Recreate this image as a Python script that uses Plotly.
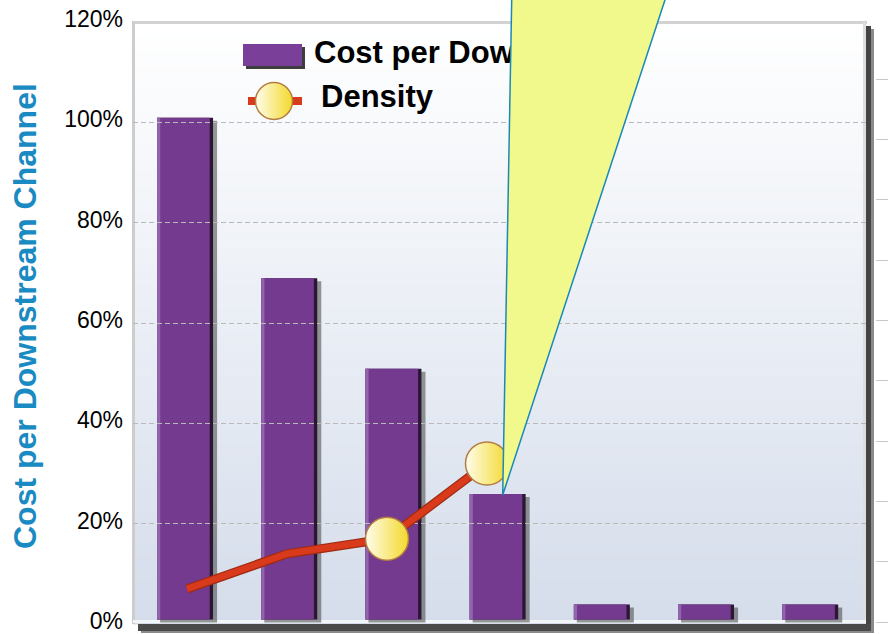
import plotly.graph_objects as go

# ---- data ----
groups = [1, 2, 3, 4, 5, 6, 7]
cost_share = [100, 68, 50, 25, 3, 3, 3]          # % (bars)
density_share = [7, 14, 17, 32]                   # % (line, first four groups)
tick_values = [0, 20, 40, 60, 80, 100, 120]
tick_labels = ["0%", "20%", "40%", "60%", "80%", "100%", "120%"]
grid_values = [20, 40, 60, 80, 100]
series_names = ["Cost per Downstream", "Density"]
axis_title = "Cost per Downstream Channel"

# ---- page geometry (pixels) ----
W, H = 888, 634
PL, PR, PT, PB = 133, 866, 22, 624   # plot frame


def px(x):
    return x / W


def py(y):
    return 1 - y / H


FONT = "Liberation Sans, Arial, sans-serif"
BAR_FACE = "#743A8F"
BAR_EDGE = "#2C1733"
BAR_HI = "#9264AE"
LINE_RED = "#D93A1B"
LINE_DARK = "#A02B12"

fig = go.Figure()

# bar shadow, dark right edge, face and left highlight
fig.add_trace(go.Bar(x=groups, y=cost_share, base=-0.6, width=0.547, offset=-0.24,
                     marker=dict(color="rgba(70,70,70,0.55)", line_width=0),
                     xaxis="x", yaxis="y2"))
fig.add_trace(go.Bar(x=groups, y=cost_share, width=0.537, offset=-0.2687,
                     marker=dict(color=BAR_EDGE, line_width=0),
                     xaxis="x", yaxis="y2"))
fig.add_trace(go.Bar(x=groups, y=cost_share, width=0.505, offset=-0.2687,
                     marker=dict(color=BAR_FACE, line_width=0),
                     xaxis="x", yaxis="y2"))
fig.add_trace(go.Bar(x=groups, y=cost_share, width=0.03, offset=-0.2687,
                     marker=dict(color=BAR_HI, line_width=0),
                     xaxis="x", yaxis="y2"))

# density line with darker rim, markers on the last two points
line_x = groups[:len(density_share)]
fig.add_trace(go.Scatter(x=line_x, y=density_share, mode="lines",
                         line=dict(color=LINE_DARK, width=9),
                         xaxis="x2", yaxis="y"))
fig.add_trace(go.Scatter(x=line_x, y=density_share, mode="lines",
                         line=dict(color=LINE_RED, width=6.5),
                         xaxis="x2", yaxis="y"))
fig.add_trace(go.Scatter(x=line_x[2:], y=density_share[2:], mode="markers",
                         marker=dict(size=43, color="#FFFDEC",
                                     gradient=dict(type="horizontal", color="#F3D92B"),
                                     line=dict(color="#B47C42", width=1.5)),
                         xaxis="x2", yaxis="y"))

# empty traces so the right-hand tick axis and the grid axis are laid out
fig.add_trace(go.Scatter(x=[None], y=[None], xaxis="x", yaxis="y4"))
fig.add_trace(go.Scatter(x=[None], y=[None], xaxis="x", yaxis="y5"))

# ---- legend (drawn in page-pixel overlay) ----
fig.add_trace(go.Scatter(x=[246, 305, 305, 246, 246], y=[47, 47, 69, 69, 47],
                         fill="toself", fillcolor="#3E3E3E", mode="none",
                         xaxis="x3", yaxis="y3"))
fig.add_trace(go.Scatter(x=[243, 302, 302, 243, 243], y=[44, 44, 66, 66, 44],
                         fill="toself", fillcolor="#7A3F98", mode="none",
                         xaxis="x3", yaxis="y3"))
fig.add_trace(go.Scatter(x=[314], y=[55], mode="text", text=[series_names[0]],
                         textposition="middle right",
                         textfont=dict(family=FONT, size=31, color="black", weight="bold"),
                         xaxis="x3", yaxis="y3"))
fig.add_trace(go.Scatter(x=[248, 302], y=[101, 101], mode="lines",
                         line=dict(color=LINE_RED, width=8),
                         xaxis="x3", yaxis="y3"))
fig.add_trace(go.Scatter(x=[274], y=[101], mode="markers",
                         marker=dict(size=37, color="#FFFDEC",
                                     gradient=dict(type="horizontal", color="#F3D92B"),
                                     line=dict(color="#B47C42", width=1.5)),
                         xaxis="x3", yaxis="y3"))
fig.add_trace(go.Scatter(x=[321], y=[99], mode="text", text=[series_names[1]],
                         textposition="middle right",
                         textfont=dict(family=FONT, size=31, color="black", weight="bold"),
                         xaxis="x3", yaxis="y3"))

# callout pointer
fig.add_trace(go.Scatter(x=[502.7, 511.8, 666.6, 502.7], y=[495, -5, -5, 495],
                         fill="toself", fillcolor="#F2F98C", mode="lines",
                         line=dict(color="#1A88B8", width=1.5),
                         xaxis="x3", yaxis="y3"))

# ---- decoration shapes: gradient wall and 3-D frame ----
shapes = []
N = 80
top_rgb = (255, 255, 255)
bot_rgb = (213, 221, 235)
for i in range(N):
    t = i / (N - 1)
    c = tuple(round(top_rgb[k] + (bot_rgb[k] - top_rgb[k]) * t) for k in range(3))
    y0 = PT + (PB - PT) * i / N
    y1 = PT + (PB - PT) * (i + 1) / N + 0.5
    shapes.append(dict(type="rect", xref="paper", yref="paper", layer="below",
                       x0=px(PL), x1=px(PR), y0=py(y0), y1=py(y1),
                       fillcolor="rgb(%d,%d,%d)" % c, line_width=0))


def rect(x0, y0, x1, y1, color):
    shapes.append(dict(type="rect", xref="paper", yref="paper", layer="below",
                       x0=px(x0), x1=px(x1), y0=py(y0), y1=py(y1),
                       fillcolor=color, line_width=0))


rect(869, 29, 874, 633, "#8A8A8A")
rect(141, 627, 874, 633, "#8A8A8A")
rect(866, 26, 871, 631, "#444444")
rect(138, 624, 871, 631, "#4A4A4A")
rect(PL - 1, PT - 1, PR + 1, PT + 2, "#D3D3D3")
rect(PL - 1, PT - 1, PL + 2, PB, "#CDCDCD")
rect(PR - 3, PT, PR, PB, "#DEDEDE")
rect(PL, PB - 4, PR, PB - 1, "#F3F5F9")

hidden = dict(showgrid=False, zeroline=False, showticklabels=False, showline=False,
              automargin=False)

fig.update_layout(
    width=W, height=H,
    margin=dict(l=0, r=0, t=0, b=0, autoexpand=False),
    paper_bgcolor="white",
    plot_bgcolor="rgba(0,0,0,0)",
    showlegend=False,
    hovermode=False,
    barmode="overlay",
    shapes=shapes,
    annotations=[dict(text=axis_title, xref="paper", yref="paper",
                      x=px(25), y=py(316), xanchor="center", yanchor="middle",
                      textangle=-90, showarrow=False,
                      font=dict(family=FONT, size=32, color="#1A8AC2", weight="bold"))],
    xaxis=dict(domain=[px(PL), px(PR)], range=[0.5, 7.535], anchor="y", **hidden),
    xaxis2=dict(overlaying="x", range=[0.46, 7.79], anchor="y", **hidden),
    xaxis3=dict(domain=[0, 1], range=[0, W], anchor="y3", visible=False, automargin=False),
    yaxis=dict(domain=[py(PB), py(PT)], range=[0, 120], anchor="x",
               tickmode="array", tickvals=tick_values, ticktext=tick_labels,
               tickfont=dict(family=FONT, size=23, color="black"),
               ticks="", ticklabelstandoff=9, ticklabelshift=-3,
               ticklabeloverflow="allow",
               showgrid=False, zeroline=False, showline=False, automargin=False),
    yaxis2=dict(overlaying="y", range=[-0.9, 119.1], anchor="x", **hidden),
    yaxis3=dict(domain=[0, 1], range=[H, 0], anchor="x3", visible=False, automargin=False),
    yaxis4=dict(overlaying="y", anchor="free", position=875 / W, side="right",
                range=[-0.033, 9.945], dtick=1, tick0=0,
                ticks="outside", ticklen=14, tickwidth=1, tickcolor="#C8C8C8",
                showticklabels=False, showgrid=False, zeroline=False, showline=False,
                automargin=False),
    yaxis5=dict(overlaying="y", range=[0, 120], anchor="x",
                tickmode="array", tickvals=grid_values,
                showgrid=True, gridcolor="#B9B9B9", gridwidth=1, griddash="5px,3px",
                showticklabels=False, ticks="", zeroline=False, showline=False,
                automargin=False),
)

fig.write_html("out.html")
